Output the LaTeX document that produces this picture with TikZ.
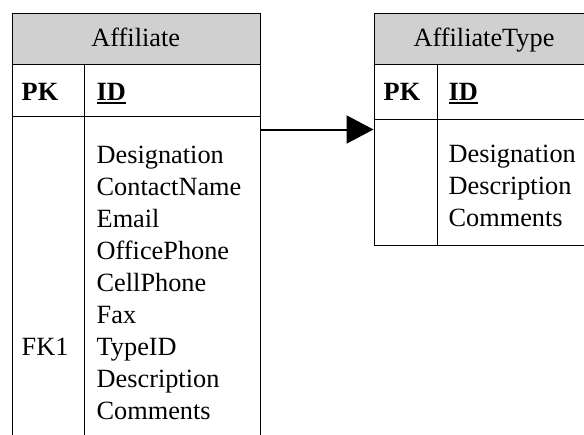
\documentclass[tikz,border=0pt]{standalone}
\usepackage{fontspec}
\setmainfont{Liberation Serif}
\usetikzlibrary{arrows.meta}
\definecolor{hdrgray}{RGB}{208,208,208}
\tikzset{
  frame/.style={draw=black, line width=1.4pt, rectangle, inner sep=0pt, anchor=north west},
  txt/.style={inner sep=0pt, anchor=base west, font=\fontsize{26.3}{31.8}\selectfont},
  ctxt/.style={txt, anchor=base},
  keytxt/.style={txt, font=\fontsize{26.3}{31.8}\selectfont\bfseries},
  uline/.style={line width=1.8pt},
  divider/.style={line width=1.4pt},
  link/.style={line width=2pt, -{Triangle[length=27pt,width=28pt]}}
}
\begin{document}
\begin{tikzpicture}[x=1pt,y=-1pt]
  \useasboundingbox (0,0) rectangle (584,434);
  \clip (0,0) rectangle (584,434);

  % Affiliate table
  \node[frame, fill=hdrgray, minimum width=248.5pt, minimum height=51.5pt] (affHead) at (11.5,12.5) {};
  \node[frame, minimum width=248.5pt, minimum height=51.5pt] (affKey) at (11.5,64) {};
  \node[frame, minimum width=248.5pt, minimum height=360pt] (affBody) at (11.5,115.5) {};
  \draw[divider] ([xshift=73pt]affKey.north west) -- ([xshift=73pt]affBody.south west);
  \node[ctxt] (affTitle) at (135.75,46.7) {Affiliate};
  \node[keytxt] (affPK) at (21.5,100) {PK};
  \node[keytxt] (affID) at (96.5,100) {ID};
  \draw[uline] ([yshift=-2.6pt]affID.base west) -- ([yshift=-2.6pt]affID.base east);
  \foreach \f [count=\i from 0] in {Designation,ContactName,Email,OfficePhone,CellPhone,Fax,TypeID,Description,Comments}
    \node[txt] (aff-\i) at (96.5,163+32*\i) {\f};
  \node[txt] (affFK) at (21.5,163+32*6) {FK1};

  % AffiliateType table
  \node[frame, fill=hdrgray, minimum width=221.5pt, minimum height=51.5pt] (typeHead) at (373.5,12.5) {};
  \node[frame, minimum width=221.5pt, minimum height=55pt] (typeKey) at (373.5,64) {};
  \node[frame, minimum width=221.5pt, minimum height=126pt] (typeBody) at (373.5,119) {};
  \draw[divider] ([xshift=64pt]typeKey.north west) -- ([xshift=64pt]typeBody.south west);
  \node[ctxt] (typeTitle) at (484,46.7) {AffiliateType};
  \node[keytxt] (typePK) at (383.5,100) {PK};
  \node[keytxt] (typeID) at (448.5,100) {ID};
  \draw[uline] ([yshift=-2.6pt]typeID.base west) -- ([yshift=-2.6pt]typeID.base east);
  \foreach \f [count=\i from 0] in {Designation,Description,Comments}
    \node[txt] (type-\i) at (448.5,162.5+32*\i) {\f};

  % relationship: Affiliate.TypeID -> AffiliateType.ID
  \draw[link] (affBody.east |- 0,129.5) -- (typeBody.west |- 0,129.5);
\end{tikzpicture}
\end{document}
